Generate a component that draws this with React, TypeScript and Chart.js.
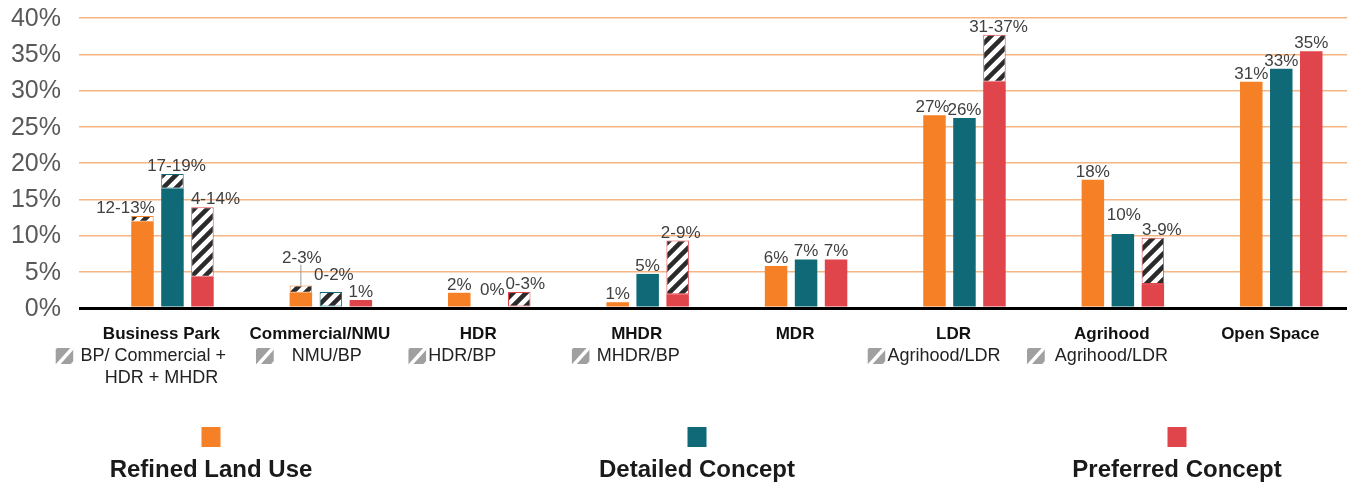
import React, { useEffect, useRef } from "react";
import { Chart, registerables } from "chart.js";

Chart.register(...registerables);

// ---------- data ----------
const categories = ["Business Park", "Commercial/NMU", "HDR", "MHDR", "MDR", "LDR", "Agrihood", "Open Space"];
const seriesNames = ["Refined Land Use", "Detailed Concept", "Preferred Concept"];

const refinedSolid = [11.9, 2.1, 2.1, 0.8, 5.8, 26.6, 17.7, 31.2];
const refinedRange = [0.8, 1.0, 0, 0, 0, 0, 0, 0];
const detailedSolid = [16.5, 0, 0, 4.7, 6.7, 26.2, 10.2, 33.0];
const detailedRange = [2.0, 2.2, 0, 0, 0, 0, 0, 0];
const preferredSolid = [4.3, 1.1, 0, 1.9, 6.7, 31.2, 3.3, 35.4];
const preferredRange = [9.6, 0, 2.2, 7.4, 0, 6.5, 6.4, 0];

const refinedLabels = ["12-13%", "2-3%", "2%", "1%", "6%", "27%", "18%", "31%"];
const detailedLabels = ["17-19%", "0-2%", "0%", "5%", "7%", "26%", "10%", "33%"];
const preferredLabels = ["4-14%", "1%", "0-3%", "2-9%", "7%", "31-37%", "3-9%", "35%"];

const rangeLegendLine1 = ["BP/ Commercial +", "NMU/BP", "HDR/BP", "MHDR/BP", "", "Agrihood/LDR", "Agrihood/LDR", ""];
const rangeLegendLine2 = ["HDR + MHDR", "", "", "", "", "", "", ""];

const yTicks = [0, 5, 10, 15, 20, 25, 30, 35, 40];
const yTickLabels = ["0%", "5%", "10%", "15%", "20%", "25%", "30%", "35%", "40%"];
const yMax = 40;
const yStep = 5;

// ---------- styles ----------
const COLORS = ["#F58026", "#0F6977", "#E0454B"];
const GRID = "#F6B583";
const LABEL_NUDGE: Record<string, [number, number]> = {
  "0-0": [-17, 0],
  "1-0": [4, 0],
  "2-0": [13, 0],
  "0-1": [1, -20],
  "1-1": [3, -9],
  "1-2": [3, -10],
  "2-2": [6, 0],
  "2-3": [3, 0],
  "0-5": [-2, 0],
  "2-5": [4, 0],
  "1-6": [1, -11],
  "2-6": [9, 0],
};
const LEADER = ["0-1"];
// sub-legend offsets relative to group centre: [iconLeft, textLeft, line2Center]
const SUB_OFFSETS: [number, number, number][] = [
  [-117, -92, -11],
  [-75, -39, 0],
  [-81, -61, 0],
  [-76, -51, 0],
  [0, 0, 0],
  [-97, -77, 0],
  [-96, -68, 0],
  [0, 0, 0],
];
const LEGEND_X = [211, 697, 1177];

function makeHatch(): CanvasPattern | string {
  const s = 13;
  const c = document.createElement("canvas");
  c.width = s;
  c.height = s;
  const g = c.getContext("2d");
  if (!g) return "#fff";
  g.fillStyle = "#ffffff";
  g.fillRect(0, 0, s, s);
  g.strokeStyle = "#2b2b2b";
  g.lineWidth = 4.5;
  g.beginPath();
  for (const k of [-s, 0, s]) {
    g.moveTo(k - 2, s + 2);
    g.lineTo(k + s + 2, -2);
  }
  g.stroke();
  const p = g.createPattern(c, "repeat");
  return p || "#fff";
}

export default function App() {
  const ref = useRef<HTMLCanvasElement>(null);

  useEffect(() => {
    if (!ref.current) return;
    const hatch = makeHatch();
    const solids = [refinedSolid, detailedSolid, preferredSolid];
    const ranges = [refinedRange, detailedRange, preferredRange];
    const labels = [refinedLabels, detailedLabels, preferredLabels];
    const stacks = ["r", "d", "p"];

    const datasets: any[] = [];
    solids.forEach((solid, k) => {
      datasets.push({
        label: seriesNames[k],
        data: solid.map((v, i) => ({ x: i, y: v })),
        backgroundColor: COLORS[k],
        borderWidth: 0,
        stack: stacks[k],
        categoryPercentage: 0.568,
        barPercentage: 0.75,
      });
      datasets.push({
        label: seriesNames[k] + " range",
        data: ranges[k].map((v, i) => ({ x: i, y: v > 0 ? v : null })),
        backgroundColor: hatch,
        borderColor: COLORS[k],
        borderWidth: 1,
        borderSkipped: false,
        stack: stacks[k],
        categoryPercentage: 0.568,
        barPercentage: 0.75,
      });
    });

    const textPlugin = {
      id: "texts",
      afterDraw(chart: any) {
        const ctx: CanvasRenderingContext2D = chart.ctx;
        const xs = chart.scales.x;
        const ys = chart.scales.y;
        const area = chart.chartArea;
        ctx.save();

        // y tick labels
        ctx.font = '25px "Liberation Sans"';
        ctx.fillStyle = "#595959";
        ctx.textAlign = "right";
        ctx.textBaseline = "middle";
        yTicks.forEach((v, i) => {
          ctx.fillText(yTickLabels[i], area.left - 18, ys.getPixelForValue(v) + 1);
        });

        // value labels
        ctx.font = '17px "Liberation Sans"';
        ctx.fillStyle = "#404040";
        ctx.textAlign = "center";
        ctx.textBaseline = "alphabetic";
        for (let k = 0; k < 3; k++) {
          const meta = chart.getDatasetMeta(k * 2);
          labels[k].forEach((txt, i) => {
            const bar = meta.data[i];
            const cx = bar.x;
            const top = ys.getPixelForValue(solids[k][i] + ranges[k][i]);
            const key = `${k}-${i}`;
            const [dx, dy] = LABEL_NUDGE[key] || [0, 0];
            const by = top - 3 + dy;
            ctx.fillText(txt, cx + dx, by);
            if (LEADER.includes(key)) {
              ctx.strokeStyle = "#9a9a9a";
              ctx.lineWidth = 1;
              ctx.beginPath();
              ctx.moveTo(cx, by + 2);
              ctx.lineTo(cx, top);
              ctx.stroke();
            }
          });
        }

        // category labels
        ctx.font = 'bold 17px "Liberation Sans"';
        ctx.fillStyle = "#111111";
        ctx.textBaseline = "middle";
        ctx.textAlign = "center";
        categories.forEach((c, i) => {
          const cx = xs.getPixelForValue(i);
          ctx.fillText(c, cx - 11, area.bottom + 26);
        });

        // range sub-legends
        ctx.font = '18px "Liberation Sans"';
        ctx.fillStyle = "#222222";
        categories.forEach((_, i) => {
          const t1 = rangeLegendLine1[i];
          if (!t1) return;
          const cx = xs.getPixelForValue(i);
          const [io, to, l2] = SUB_OFFSETS[i];
          const ix = cx + io;
          const iy = area.bottom + 40;
          ctx.save();
          ctx.beginPath();
          ctx.rect(ix, iy, 18, 16);
          ctx.clip();
          ctx.fillStyle = "#a0a0a0";
          ctx.fillRect(ix, iy, 18, 16);
          ctx.strokeStyle = "#ffffff";
          ctx.lineWidth = 3.5;
          ctx.beginPath();
          ctx.moveTo(ix + 1, iy + 18);
          ctx.lineTo(ix + 19, iy - 2);
          ctx.moveTo(ix - 10, iy + 10);
          ctx.lineTo(ix + 2, iy - 3);
          ctx.moveTo(ix + 15, iy + 19);
          ctx.lineTo(ix + 21, iy + 12);
          ctx.stroke();
          ctx.restore();
          ctx.fillStyle = "#222222";
          ctx.textAlign = "left";
          ctx.textBaseline = "middle";
          ctx.fillText(t1, cx + to, area.bottom + 48);
          const t2 = rangeLegendLine2[i];
          if (t2) {
            ctx.textAlign = "center";
            ctx.fillText(t2, cx + l2, area.bottom + 70);
          }
        });

        // bottom legend
        seriesNames.forEach((n, k) => {
          const lx = LEGEND_X[k];
          ctx.fillStyle = COLORS[k];
          ctx.fillRect(lx - 9.5, 427, 19, 20);
          ctx.fillStyle = "#1a1a1a";
          ctx.font = 'bold 24px "Liberation Sans"';
          ctx.textAlign = "center";
          ctx.textBaseline = "middle";
          ctx.fillText(n, lx, 470);
        });
        ctx.restore();
      },
    };

    const chart = new Chart(ref.current, {
      type: "bar",
      data: { datasets },
      options: {
        animation: false,
        responsive: false,
        devicePixelRatio: 1,
        events: [],
        layout: { padding: { left: 0, right: 7, top: 18, bottom: 179 } },
        plugins: { legend: { display: false }, tooltip: { enabled: false } },
        scales: {
          x: {
            type: "linear",
            offset: false,
            min: -0.59,
            max: 7.415,
            display: false,
            ticks: { stepSize: 1, includeBounds: false },
            grid: { display: false },
          },
          y: {
            stacked: true,
            min: 0,
            max: yMax,
            afterFit: (s: any) => {
              s.width = 79;
            },
            ticks: { stepSize: yStep, display: false },
            border: { display: false },
            grid: {
              drawTicks: false,
              color: (c: any) => (c.tick && c.tick.value === 0 ? "#000000" : GRID),
              lineWidth: (c: any) => (c.tick && c.tick.value === 0 ? 3 : 1.5),
            },
          },
        },
      } as any,
      plugins: [textPlugin],
    });
    return () => chart.destroy();
  }, []);

  return (
    <div style={{ position: "fixed", left: 0, top: 0, width: 1354, height: 487, background: "#fff" }}>
      <canvas ref={ref} width={1354} height={487} style={{ width: 1354, height: 487 }} />
    </div>
  );
}
